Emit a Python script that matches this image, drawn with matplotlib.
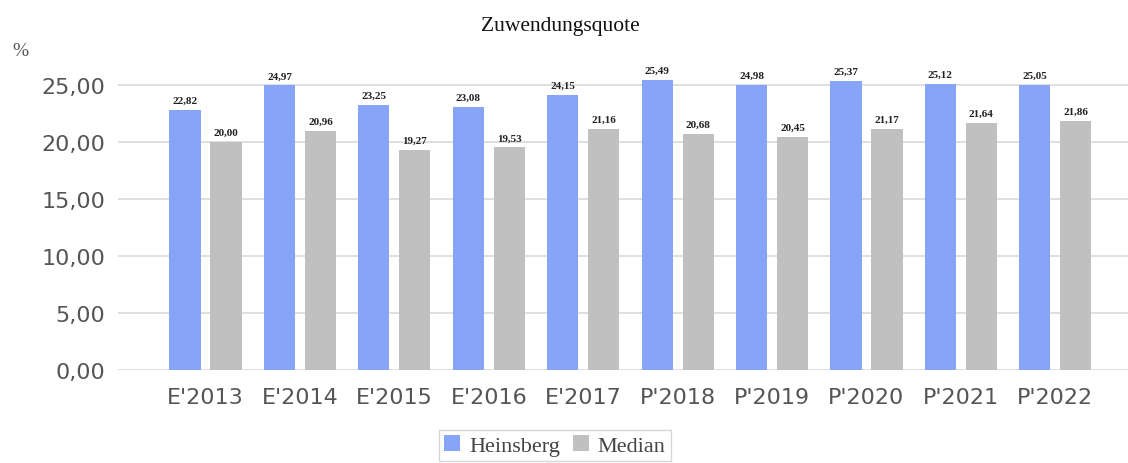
import numpy as np
import matplotlib.pyplot as plt
from matplotlib.ticker import FuncFormatter

categories = ["E'2013", "E'2014", "E'2015", "E'2016", "E'2017",
              "P'2018", "P'2019", "P'2020", "P'2021", "P'2022"]
heinsberg = [22.82, 24.97, 23.25, 23.08, 24.15, 25.49, 24.98, 25.37, 25.12, 25.05]
median = [20.00, 20.96, 19.27, 19.53, 21.16, 20.68, 20.45, 21.17, 21.64, 21.86]

BLUE = '#88a4f8'
GRAY = '#c0c0c0'

fig = plt.figure(figsize=(11.28, 4.64), dpi=100)
ax = fig.add_axes([0.1046, 0.2004, 0.8954, 0.6916])

x = np.arange(len(categories))
w = 0.33
off = 0.217
b1 = ax.bar(x - off, heinsberg, w, color=BLUE, label='Heinsberg', zorder=2)
b2 = ax.bar(x + off, median, w, color=GRAY, label='Median', zorder=2)

for bars, vals in ((b1, heinsberg), (b2, median)):
    for bar, v in zip(bars, vals):
        ax.text(bar.get_x() + bar.get_width() / 2, v + 0.45, f'{v:.2f}'.replace('.', ','),
                ha='center', va='bottom', fontsize=8, fontweight='bold',
                family='Liberation Serif', color='#222222')

ax.set_xlim(-0.927, 9.77)
ax.set_ylim(0, 28.16)
ax.set_yticks(np.arange(0, 26, 5))
ax.yaxis.set_major_formatter(FuncFormatter(lambda v, p: f'{v:.2f}'.replace('.', ',')))
ax.set_xticks(x)
ax.set_xticklabels(categories)
ax.grid(axis='y', color='#d9d9d9', linewidth=1.2, zorder=0)
for s in ax.spines.values():
    s.set_visible(False)
ax.tick_params(axis='both', length=0, labelsize=16, labelcolor='#555555')
ax.tick_params(axis='x', pad=12)
ax.tick_params(axis='y', pad=9)

fig.text(0.497, 0.942, 'Zuwendungsquote', ha='center', va='center',
         fontsize=15.5, family='Liberation Serif', color='#111111')
fig.text(0.011, 0.89, '%', ha='left', va='center',
         fontsize=14, family='Liberation Serif', color='#555555')

leg = fig.legend(handles=[b1, b2], loc='center', bbox_to_anchor=(0.492, 0.038),
                 ncol=2, frameon=True, fancybox=False,
                 prop={'family': 'Liberation Serif', 'size': 16},
                 handlelength=0.7, handleheight=0.7, handletextpad=0.4,
                 columnspacing=0.6, borderpad=0.25)
leg.get_frame().set_edgecolor('#cccccc')
leg.get_frame().set_linewidth(1)
for t in leg.get_texts():
    t.set_color('#444444')

fig.savefig('out.png', dpi=100)
